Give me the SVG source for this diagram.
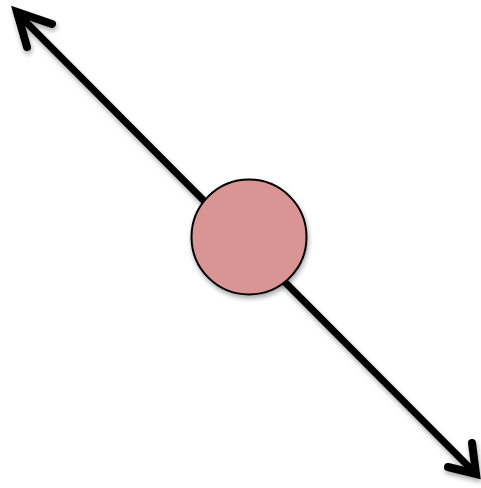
<svg xmlns="http://www.w3.org/2000/svg" width="481" height="488" viewBox="0 0 481 488">
<defs>
<filter id="sh" x="-20%" y="-20%" width="150%" height="150%">
<feGaussianBlur in="SourceAlpha" stdDeviation="2.5"/>
<feOffset dx="1" dy="3"/>
<feComponentTransfer><feFuncA type="linear" slope="0.35"/></feComponentTransfer>
<feMerge><feMergeNode/><feMergeNode in="SourceGraphic"/></feMerge>
</filter>
<style>
.ln{fill:none;stroke:#000;stroke-width:7;stroke-linecap:round}
.hd{fill:none;stroke:#000;stroke-width:8;stroke-linecap:round;stroke-linejoin:miter;stroke-miterlimit:10}
</style>
</defs>
<g id="connectors" filter="url(#sh)">
<line class="ln" x1="18" y1="14" x2="474" y2="472"/>
<polyline class="hd" points="52,24 17,12 27,47"/>
<polyline class="hd" points="472,443 476,474 448,467"/>
</g>
<g id="node" filter="url(#sh)">
<circle cx="249" cy="237" r="57.5" fill="#d99494" stroke="#000" stroke-width="2"/>
</g>
</svg>
